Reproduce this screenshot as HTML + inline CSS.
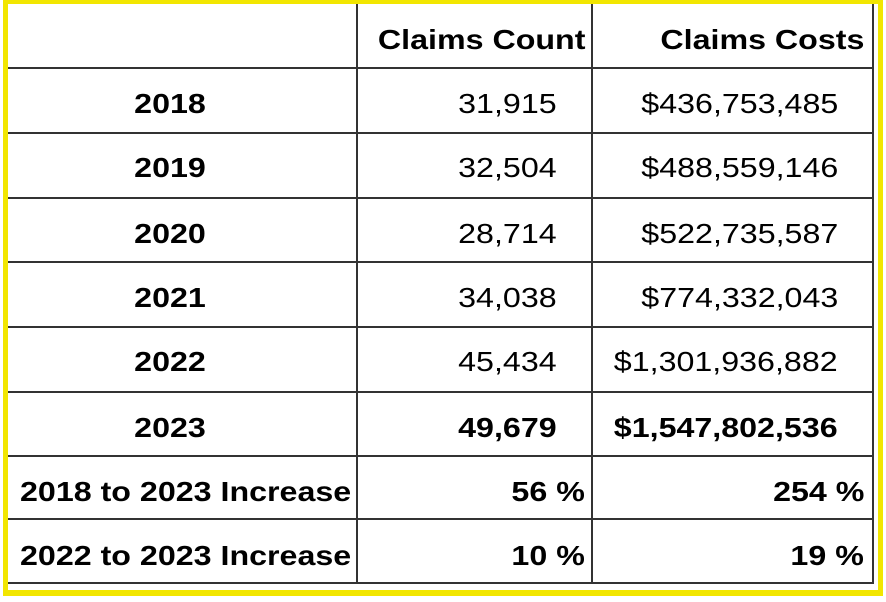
<!DOCTYPE html>
<html><head><style>
body{margin:0;width:886px;height:602px;background:#fff;position:relative;overflow:hidden;font-family:"Liberation Sans",Arial,sans-serif;color:#000}
.y{position:absolute;left:3px;top:0;width:870px;height:586px;border:5px solid #f2e600;border-top-width:4px;border-bottom-width:6px}
.h{position:absolute;left:8px;width:866px;height:2px;background:#333}
.v{position:absolute;top:4px;width:2px;height:580px;background:#333}
.t{position:absolute;font-size:28px;line-height:30px;white-space:nowrap;transform:scaleX(1.15);transform-origin:right center}
.l{transform-origin:left center}
.b{font-weight:bold}
.c{text-align:center;width:340px;left:0;transform-origin:center center}
</style></head><body>
<div class="y"></div>
<div class="h" style="top:67px"></div><div class="h" style="top:132px"></div><div class="h" style="top:197px"></div><div class="h" style="top:261px"></div><div class="h" style="top:326px"></div><div class="h" style="top:391px"></div><div class="h" style="top:455px"></div><div class="h" style="top:518px"></div><div class="h" style="top:582px"></div>
<div class="v" style="left:356px"></div><div class="v" style="left:591px"></div><div class="v" style="left:872px"></div>
<div class="t b" style="right:301px;top:25px">Claims Count</div>
<div class="t b" style="right:22px;top:25px">Claims Costs</div>
<div class="t b c" style="top:89px">2018</div>
<div class="t b c" style="top:153px">2019</div>
<div class="t b c" style="top:219px">2020</div>
<div class="t b c" style="top:283px">2021</div>
<div class="t b c" style="top:347px">2022</div>
<div class="t b c" style="top:413px">2023</div>
<div class="t b l" style="left:20px;top:477px">2018 to 2023 Increase</div>
<div class="t b l" style="left:20px;top:541px">2022 to 2023 Increase</div>
<div class="t" style="right:329px;top:89px">31,915</div>
<div class="t" style="right:329px;top:153px">32,504</div>
<div class="t" style="right:329px;top:219px">28,714</div>
<div class="t" style="right:329px;top:283px">34,038</div>
<div class="t" style="right:329px;top:347px">45,434</div>
<div class="t b" style="right:329px;top:413px">49,679</div>
<div class="t b" style="right:301px;top:477px">56 %</div>
<div class="t b" style="right:301px;top:541px">10 %</div>
<div class="t" style="right:48px;top:89px">$436,753,485</div>
<div class="t" style="right:48px;top:153px">$488,559,146</div>
<div class="t" style="right:48px;top:219px">$522,735,587</div>
<div class="t" style="right:48px;top:283px">$774,332,043</div>
<div class="t" style="right:48px;top:347px">$1,301,936,882</div>
<div class="t b" style="right:48px;top:413px">$1,547,802,536</div>
<div class="t b" style="right:22px;top:477px">254 %</div>
<div class="t b" style="right:22px;top:541px">19 %</div>
</body></html>
